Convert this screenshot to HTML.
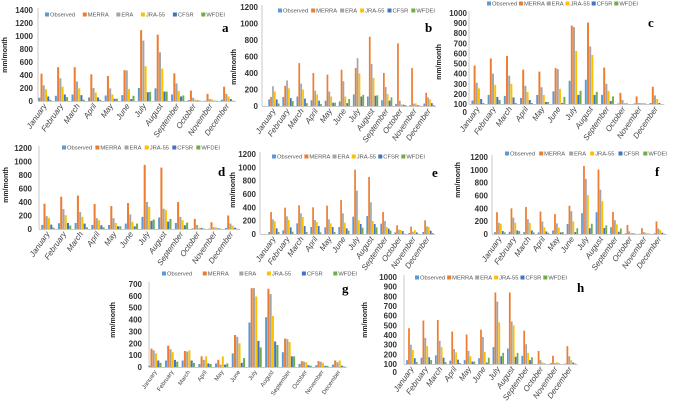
<!DOCTYPE html>
<html><head><meta charset="utf-8"><style>
body{margin:0;background:#fff;}
svg{display:block;font-family:"Liberation Sans",sans-serif;}
</style></head><body>
<svg id="fig" width="685" height="403" viewBox="0 0 685 403"></svg>
<script>
const months=["January","February","March","April","May","June","July","August","September","October","November","December"];
const seriesNames=["Observed","MERRA","ERA","JRA-55","CFSR","WFDEI"];
const colors=["#5b9bd5","#ed7d31","#a5a5a5","#ffc000","#4472c4","#70ad47"];
// values per panel: [series][month]
const dataA=[[50,80,100,55,85,90,200,195,100,15,5,20],[420,520,520,410,385,475,1090,1020,425,160,110,220],[240,350,300,200,195,470,930,750,270,50,30,110],[180,220,195,130,100,185,535,500,155,20,25,70],[70,100,90,55,35,30,135,145,70,10,5,30],[20,60,20,20,35,80,140,145,85,5,5,5]];
const dataB=[[80,110,115,70,65,55,140,115,70,25,10,30],[110,245,520,400,380,440,460,840,400,760,460,160],[240,310,270,185,175,300,580,510,230,65,30,105],[175,215,200,140,115,115,395,340,145,20,30,80],[80,95,90,65,40,35,115,125,65,15,10,35],[30,60,35,25,40,85,135,130,105,10,5,10]];
const dataC=[[135,190,180,160,190,225,330,340,190,105,105,110],[480,550,575,440,420,455,875,905,460,210,175,270],[310,400,380,280,265,445,860,670,300,140,110,185],[255,290,300,220,190,250,625,585,230,110,110,150],[150,170,165,140,120,110,190,190,130,105,105,110],[110,140,110,110,120,170,230,220,175,100,105,100]];
const dataD=[[60,85,90,60,60,80,180,170,90,10,5,15],[375,480,495,370,340,385,950,910,400,150,100,200],[190,295,250,160,160,215,400,300,180,60,25,80],[165,205,180,130,90,105,330,280,130,20,25,50],[65,90,80,55,40,40,120,110,55,15,10,20],[20,50,25,25,40,80,140,150,95,5,5,5]];
const dataE=[[30,55,160,105,100,105,260,270,155,25,15,30],[330,395,430,400,425,510,965,855,330,130,110,205],[220,265,310,210,220,310,650,475,195,65,35,115],[190,210,255,180,160,170,205,195,105,60,60,105],[85,100,120,120,105,85,150,150,80,45,25,50],[30,35,30,25,30,50,95,100,50,5,5,15]];
const dataF=[[30,35,30,25,55,155,325,340,105,10,5,10],[340,400,420,350,310,440,1060,1005,345,140,90,195],[175,255,230,195,165,355,860,690,215,40,30,85],[160,175,175,105,100,195,605,510,150,15,20,60],[45,55,55,40,25,30,90,95,35,10,5,20],[25,45,25,20,30,90,160,135,85,5,5,5]];
const dataG=[[10,55,55,25,30,115,375,420,125,25,15,20],[155,180,135,90,60,270,665,660,240,50,50,55],[140,150,130,60,20,255,665,615,235,45,45,40],[115,125,140,90,90,200,595,430,210,40,35,55],[55,60,55,30,20,35,220,215,90,15,10,10],[35,45,35,25,30,75,165,185,90,10,10,5]];
const dataH=[[140,165,190,135,140,160,275,260,185,100,110,105],[470,550,555,435,405,455,840,840,445,235,185,285],[300,370,340,255,235,380,745,540,305,140,110,180],[245,285,275,220,180,225,530,500,215,115,120,140],[160,170,165,145,125,115,180,175,140,105,105,115],[120,140,120,110,125,165,215,215,170,100,100,105]];
const ticks1400=[0,200,400,600,800,1000,1200,1400];
const ticks1200=[0,200,400,600,800,1000,1200];
const ticks1000=[100,200,300,400,500,600,700,800,900,1000];
const ticks700=[0,100,200,300,400,500,600,700];

const panels=[
 {id:"a",data:dataA,ticks:ticks1400,base:101,top:10,x0:45,step:16.6,labR:33,axX:38,leg:[45,15,180],let:[222,32],tt:[7,55],zero:false,mf:8},
 {id:"b",data:dataB,ticks:ticks1200,base:106,top:7,x0:274,step:14.1,labR:258,axX:262,leg:[278,11,157],let:[425,32],tt:[236,67],zero:false,mf:8},
 {id:"c",data:dataC,ticks:ticks1000,base:104,top:13,x0:478,step:16.2,labR:467,axX:469,leg:[487,4,151],let:[648,27],tt:[441,62],zero:true,mf:8},
 {id:"d",data:dataD,ticks:ticks1200,base:229,top:148,x0:48,step:16.7,labR:32,axX:39,leg:[62,148,158],let:[218,176],tt:[8,185],zero:false,mf:8},
 {id:"e",data:dataE,ticks:ticks1200,base:234,top:154,x0:274,step:14.0,labR:256,axX:260,leg:[272,157,153],let:[432,177],tt:[235,190],zero:false,mf:8},
 {id:"f",data:dataF,ticks:ticks1200,base:234,top:157,x0:500,step:14.5,labR:488,axX:492,leg:[505,154,162],let:[655,176],tt:[460,180],zero:false,mf:8},
 {id:"g",data:dataG,ticks:ticks700,base:367,top:284,x0:155,step:16.7,labR:142,axX:149,leg:[162,274,195],let:[342,293],tt:[115,320],zero:false,mf:6},
 {id:"h",data:dataH,ticks:ticks1000,base:364,top:277,x0:412,step:14.4,labR:397,axX:404,leg:[415,278,152],let:[577,292],tt:[367,320],zero:true,mf:8}
];
const NS="http://www.w3.org/2000/svg";
const svg=document.getElementById("fig");
function mk(tag,attrs,parent){const e=document.createElementNS(NS,tag);for(const k in attrs)e.setAttribute(k,attrs[k]);parent.appendChild(e);return e;}

panels.forEach(p=>{
  const g=mk("g",{},svg);
  
  
  const tmin=p.ticks[0],tmax=p.ticks[p.ticks.length-1];
  const y=v=>p.base-(Math.max(v,tmin)-tmin)/(tmax-tmin)*(p.base-p.top);
  const x=i=>p.x0+i*p.step;
  p.ticks.forEach(t=>{
    const tx=mk("text",{x:p.labR,y:y(t)+3,"text-anchor":"end","font-size":8,"font-weight":"bold",fill:"#333"},g);
    tx.textContent=t;
    
    
  });
  if(p.zero){
    const tz=mk("text",{x:p.labR,y:p.base+11,"text-anchor":"end","font-size":8,"font-weight":"bold",fill:"#333"},g);
    tz.textContent="0";
    
    
  }
  const ax=mk("line",{x1:p.axX,y1:p.top-2,x2:p.axX,y2:p.base,stroke:"#c8c8c8","stroke-width":1},g);
  
  
  const bl=mk("line",{x1:p.axX,y1:p.base+0.5,x2:x(11)+p.step/2,y2:p.base+0.5,stroke:"#c8c8c8","stroke-width":1},g);
  
  
  const bw=p.step*0.135, gw=bw*6;
  p.data.forEach((ser,s)=>{
    ser.forEach((v,m)=>{
      const bx=x(m)-gw/2+s*bw;
      const yy=y(v);
      const r=mk("rect",{x:bx,y:yy,width:bw*0.9,height:Math.max(0,p.base-yy),fill:colors[s]},g);
      
      
    });
  });
  months.forEach((mo,m)=>{
    const lx=x(m)+2, ly=p.base+5;
    const t=mk("text",{x:lx,y:ly,"text-anchor":"end","font-size":p.mf,"font-style":p.mf>6?"italic":"normal",fill:"#444",transform:`rotate(-55 ${lx} ${ly})`},g);
    t.textContent=mo;
    
    
  });
  // legend: measure text, distribute gaps
  const [lx,ly,lw]=p.leg;
  const items=[];
  let tot=0;
  seriesNames.forEach((n,s)=>{
    const lg=mk("g",{},g);
    
    
    const r=mk("rect",{x:0,y:ly-2.5,width:4,height:4,fill:colors[s]},lg);
    const t=mk("text",{x:0,y:ly+1.5,"font-size":5.8,fill:"#555"},lg);
    t.textContent=n;
    const w=t.getComputedTextLength();
    items.push({r,t,w});
    tot+=5+w;
  });
  const gap=Math.max(1.5,(lw-tot)/5);
  let cx=lx;
  items.forEach(it=>{
    it.r.setAttribute("x",cx);
    it.t.setAttribute("x",cx+5);
    cx+=5+it.w+gap;
  });
  const L=mk("text",{x:p.let[0],y:p.let[1],"font-size":13,"font-weight":"bold","font-family":"Liberation Serif, serif",fill:"#000"},g);
  L.textContent=p.id;
  
  
  const T=mk("text",{x:p.tt[0],y:p.tt[1],"text-anchor":"middle","font-size":7,"font-weight":"bold",fill:"#222",transform:`rotate(-90 ${p.tt[0]} ${p.tt[1]})`},g);
  T.textContent="mm/month";
  
  
});
</script>
</body></html>
